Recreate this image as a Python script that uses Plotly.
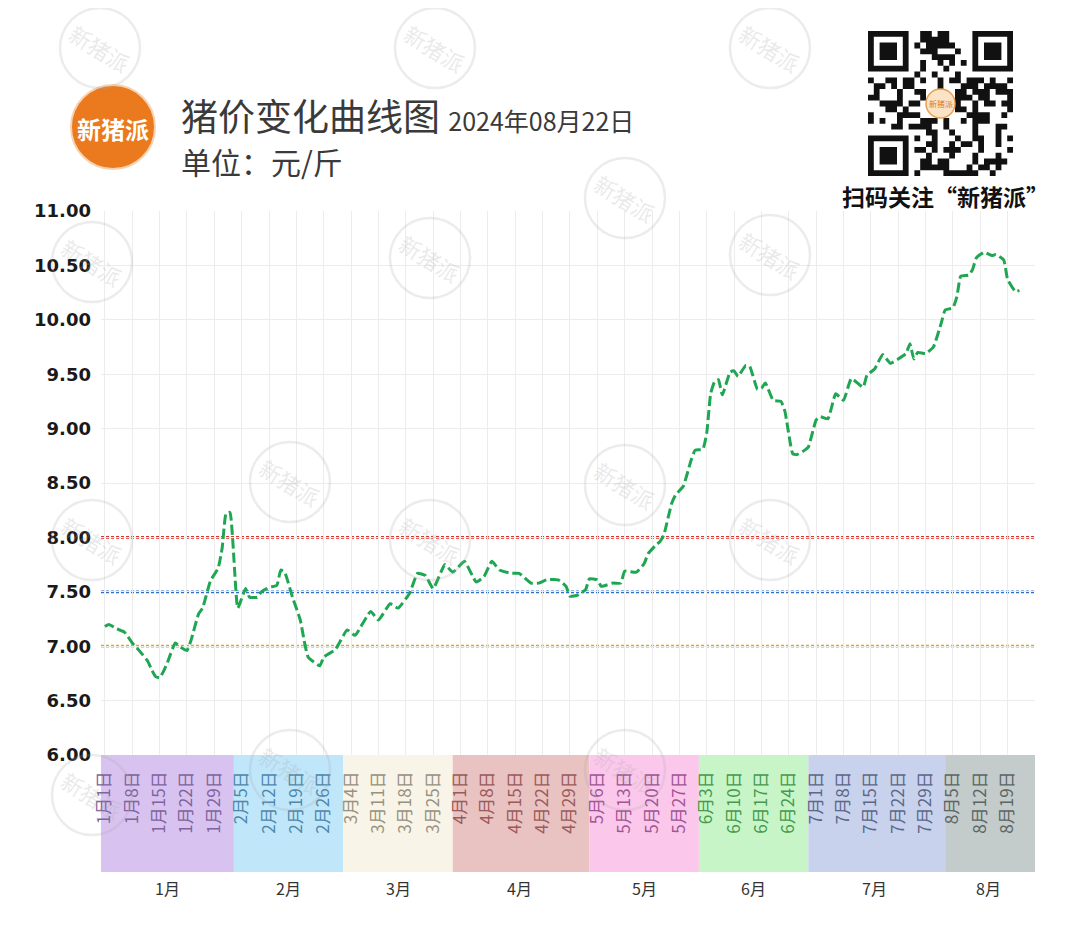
import datetime as dt
import plotly.graph_objects as go

# ---------------- data ----------------
base_date = "2024-01-01"
day_offsets = [0, 1, 3, 5, 7, 9, 11, 12, 13, 14, 15, 16, 18, 19, 21, 22, 24, 25, 27, 29,
               30, 31, 32, 34, 36, 37, 39, 40, 42, 44, 45, 46, 48, 50, 51, 52, 55, 56, 59, 62,
               64, 68, 70, 73, 75, 78, 80, 82, 84, 87, 89, 92, 95, 97, 99, 101, 104, 106, 109, 111,
               113, 116, 118, 119, 121, 123, 124, 126, 127, 130, 132, 133, 136, 138, 139, 141, 142, 143, 145, 146,
               148, 150, 151, 153, 154, 155, 156, 157, 158, 160, 161, 162, 164, 165, 167, 168, 169, 171, 173, 174,
               176, 177, 179, 180, 182, 183, 185, 187, 189, 191, 194, 195, 197, 199, 201, 203, 205, 206, 207, 208,
               210, 212, 214, 215, 217, 218, 219, 221, 222, 223, 225, 227, 228, 230, 231, 233, 234]
prices = [7.18, 7.20, 7.16, 7.13, 7.03, 6.95, 6.86, 6.78, 6.72, 6.71, 6.77, 6.85, 7.03, 7.00, 6.96, 7.05, 7.30, 7.35, 7.60, 7.72,
          7.90, 8.22, 8.23, 7.35, 7.53, 7.45, 7.45, 7.50, 7.54, 7.56, 7.70, 7.68, 7.45, 7.24, 7.05, 6.90, 6.82, 6.90, 6.97, 7.15,
          7.10, 7.32, 7.24, 7.39, 7.35, 7.49, 7.67, 7.65, 7.53, 7.75, 7.68, 7.78, 7.59, 7.64, 7.78, 7.70, 7.67, 7.67, 7.58, 7.58,
          7.61, 7.61, 7.55, 7.46, 7.47, 7.52, 7.62, 7.61, 7.55, 7.58, 7.58, 7.69, 7.68, 7.76, 7.85, 7.93, 7.96, 8.02, 8.31, 8.39,
          8.47, 8.71, 8.80, 8.81, 8.96, 9.32, 9.43, 9.45, 9.31, 9.52, 9.53, 9.48, 9.58, 9.57, 9.36, 9.37, 9.42, 9.26, 9.25, 9.16,
          8.77, 8.76, 8.80, 8.83, 9.08, 9.11, 9.09, 9.32, 9.26, 9.46, 9.38, 9.49, 9.55, 9.68, 9.60, 9.64, 9.69, 9.78, 9.64, 9.70,
          9.69, 9.75, 9.97, 10.09, 10.11, 10.21, 10.40, 10.41, 10.46, 10.57, 10.62, 10.59, 10.60, 10.55, 10.37, 10.26, 10.27]

tick_dates = ["2024-01-01", "2024-01-08", "2024-01-15", "2024-01-22", "2024-01-29",
              "2024-02-05", "2024-02-12", "2024-02-19", "2024-02-26",
              "2024-03-04", "2024-03-11", "2024-03-18", "2024-03-25",
              "2024-04-01", "2024-04-08", "2024-04-15", "2024-04-22", "2024-04-29",
              "2024-05-06", "2024-05-13", "2024-05-20", "2024-05-27",
              "2024-06-03", "2024-06-10", "2024-06-17", "2024-06-24",
              "2024-07-01", "2024-07-08", "2024-07-15", "2024-07-22", "2024-07-29",
              "2024-08-05", "2024-08-12", "2024-08-19"]
tick_labels = ["1月1日", "1月8日", "1月15日", "1月22日", "1月29日",
               "2月5日", "2月12日", "2月19日", "2月26日",
               "3月4日", "3月11日", "3月18日", "3月25日",
               "4月1日", "4月8日", "4月15日", "4月22日", "4月29日",
               "5月6日", "5月13日", "5月20日", "5月27日",
               "6月3日", "6月10日", "6月17日", "6月24日",
               "7月1日", "7月8日", "7月15日", "7月22日", "7月29日",
               "8月5日", "8月12日", "8月19日"]

month_names = ["1月", "2月", "3月", "4月", "5月", "6月", "7月", "8月"]
band_edges = ["2023-12-31", "2024-02-03", "2024-03-02", "2024-03-30", "2024-05-04",
              "2024-06-01", "2024-06-29", "2024-08-03", "2024-08-27"]
band_colors = ["#d8c2ef", "#c0e6fa", "#f8f4e7", "#e9c2c2", "#fbc8ec", "#c8f5c8", "#c8d2ec", "#c3cbcb"]
label_colors = ["#8064a0", "#4f88ab", "#979180", "#9c5a5a", "#a05595", "#459a4d", "#5b688a", "#5c6666"]

ref_levels = [8.0, 7.5, 7.0]
ref_colors = ["#e0302a", "#2f6fc4", "#e6a800"]

# ---------------- geometry helpers (reference pixels -> paper) ----------------
OFF = 8                      # page body margin
W, H = 1080 - 2 * OFF, 941 - 2 * OFF
L, R, T, B = 101 - OFF, 1035 - OFF, 211 - OFF, 755 - OFF


def px(x):
    return (x - OFF - L) / (R - L)


def py(y):
    return (B - (y - OFF)) / (B - T)


base = dt.date.fromisoformat(base_date)
dates = [(base + dt.timedelta(days=d)).isoformat() for d in day_offsets]

fig = go.Figure()

fig.add_trace(go.Scatter(
    x=dates, y=prices, mode="lines",
    line=dict(color="#1fa652", width=3, dash="10px,4px", shape="spline", smoothing=0.4),
    hoverinfo="x+y", showlegend=False,
))

shapes = []
annotations = []
CJK = "Noto Sans CJK SC"

# reference lines
for lv, c in zip(ref_levels, ref_colors):
    shapes.append(dict(type="line", xref="paper", x0=0, x1=1, yref="y", y0=lv, y1=lv,
                       line=dict(color=c, width=2.8, dash="3px,2px"), layer="below"))

# month bands below axis
band_bottom = py(872)
for i, m in enumerate(month_names):
    shapes.append(dict(type="rect", xref="x", yref="paper",
                       x0=band_edges[i], x1=band_edges[i + 1], y0=band_bottom, y1=0,
                       fillcolor=band_colors[i], line=dict(width=0), layer="below"))
    d0 = dt.date.fromisoformat(band_edges[i])
    d1 = dt.date.fromisoformat(band_edges[i + 1])
    if i == len(month_names) - 1:
        d1 = dt.date(2024, 8, 26)
    mid = d0 + (d1 - d0) / 2
    annotations.append(dict(x=mid.isoformat(), xref="x", y=py(888), yref="paper",
                            text=m, showarrow=False, xanchor="center", yanchor="middle",
                            font=dict(size=16, color="#333333", family=CJK)))

# coloured tick labels
ticktext = []
for t in tick_labels:
    mi = int(t.split("月")[0]) - 1
    ticktext.append(f"<span style='color:{label_colors[mi]}'>{t}</span>")

# header: logo
shapes.append(dict(type="circle", xref="paper", yref="paper",
                   x0=px(71), x1=px(155), y0=py(169), y1=py(85),
                   fillcolor="#ea7a1d", line=dict(color="#f6d2b0", width=2)))
annotations.append(dict(x=px(113), y=py(128), xref="paper", yref="paper", text="<b>新猪派</b>",
                        showarrow=False, xanchor="center", yanchor="middle",
                        font=dict(size=24, color="white", family=CJK)))
annotations.append(dict(x=px(179), y=py(115), xref="paper", yref="paper",
                        text="猪价变化曲线图 <span style='font-size:25px'>2024年08月22日</span>",
                        showarrow=False, xanchor="left", yanchor="middle",
                        font=dict(size=37, color="#3a3a3a", family=CJK)))
annotations.append(dict(x=px(179), y=py(161), xref="paper", yref="paper", text="单位：元/斤",
                        showarrow=False, xanchor="left", yanchor="middle",
                        font=dict(size=30, color="#3a3a3a", family=CJK)))

# QR code (decorative)
N = 25
qx0, qy0, qs = 868, 31, 145 / N


def finder(r, c):
    for fr, fc in [(0, 0), (0, N - 7), (N - 7, 0)]:
        if fr - 1 <= r <= fr + 7 and fc - 1 <= c <= fc + 7:
            rr, cc = r - fr, c - fc
            if 0 <= rr <= 6 and 0 <= cc <= 6:
                if rr in (0, 6) or cc in (0, 6):
                    return 1
                if rr in (1, 5) or cc in (1, 5):
                    return 0
                return 1
            return 0
    return None


path = ""
for r in range(N):
    for c in range(N):
        f = finder(r, c)
        if f is None:
            if 10 <= r <= 14 and 10 <= c <= 14:
                b = 0
            else:
                h = ((r + 3) * 73856093 ^ (c + 7) * 19349663) & 0xFFFF
                b = 1 if (h % 100) < 52 else 0
        else:
            b = f
        if b:
            x0 = px(qx0 + c * qs)
            x1 = px(qx0 + (c + 1) * qs)
            y0 = py(qy0 + r * qs)
            y1 = py(qy0 + (r + 1) * qs)
            path += f"M{x0:.5f},{y0:.5f}H{x1:.5f}V{y1:.5f}H{x0:.5f}Z"
shapes.append(dict(type="path", xref="paper", yref="paper", path=path,
                   fillcolor="#111111", line=dict(width=0)))
shapes.append(dict(type="circle", xref="paper", yref="paper",
                   x0=px(926), x1=px(955), y0=py(118), y1=py(89),
                   fillcolor="#fbe3c8", line=dict(color="#e9a050", width=1.5)))
annotations.append(dict(x=px(940.5), y=py(103.5), xref="paper", yref="paper", text="新猪派",
                        showarrow=False, xanchor="center", yanchor="middle",
                        font=dict(size=8, color="#e07a1a", family=CJK)))
annotations.append(dict(x=px(945), y=py(196), xref="paper", yref="paper", text="<b>扫码关注“新猪派”</b>",
                        showarrow=False, xanchor="center", yanchor="middle",
                        font=dict(size=23, color="#111111", family=CJK)))

# watermarks
wm_centers = [(100, 48), (435, 48), (770, 48), (625, 198), (92, 262), (430, 258), (770, 255),
              (290, 482), (625, 485), (92, 540), (430, 540), (770, 540),
              (290, 770), (625, 770), (92, 795)]
for cx, cy in wm_centers:
    shapes.append(dict(type="circle", xref="paper", yref="paper",
                       x0=px(cx - 40), x1=px(cx + 40), y0=py(cy + 40), y1=py(cy - 40),
                       line=dict(color="rgba(170,170,170,0.22)", width=2.5), fillcolor="rgba(0,0,0,0)",
                       layer="above"))
    annotations.append(dict(x=px(cx), y=py(cy), xref="paper", yref="paper", text="新猪派",
                            showarrow=False, textangle=32, xanchor="center", yanchor="middle",
                            font=dict(size=22, color="rgba(170,170,170,0.25)", family=CJK)))

fig.update_layout(
    width=W, height=H,
    margin=dict(l=L, r=W - R, t=T, b=H - B),
    paper_bgcolor="white", plot_bgcolor="white",
    showlegend=False,
    shapes=shapes, annotations=annotations,
    xaxis=dict(type="date", range=["2023-12-31", "2024-08-26"],
               tickmode="array", tickvals=tick_dates, ticktext=ticktext,
               tickangle=-90, tickfont=dict(size=17, family=CJK),
               showgrid=True, gridcolor="#ececec", gridwidth=1,
               showline=False, zeroline=False, ticks="", ticklabelstandoff=12),
    yaxis=dict(range=[6, 11], dtick=0.5, tick0=6, tickformat=".2f",
               showgrid=True, gridcolor="#ececec", gridwidth=1, zeroline=False,
               showline=False, ticks="",
               tickfont=dict(size=18, color="#1a1a1a", family="DejaVu Sans", weight="bold"),
               ticklabelstandoff=9),
)

fig.write_html("out.html")
